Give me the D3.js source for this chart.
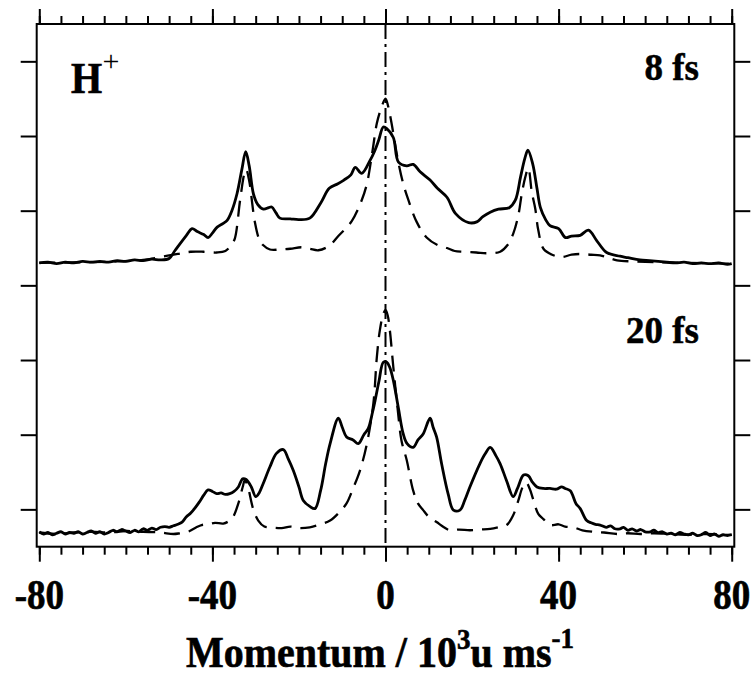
<!DOCTYPE html>
<html>
<head>
<meta charset="utf-8">
<script src="https://cdn.jsdelivr.net/npm/d3@7"></script>
<style>
  body { margin: 0; background: #fff; }
  svg { display: block; }
  text { font-family: "Liberation Serif", "Times New Roman", serif; font-weight: bold; fill: #000; }
</style>
</head>
<body>
<div id="chart"></div>
<script>
// momentum in 10^3 u ms^-1, intensity in arbitrary units (panels offset)
const xTicksMajor = [-80, -40, 0, 40, 80];
const xTicksMinor = d3.range(-80, 81, 5);
const yTicks = [0, 1, 2, 3, 4, 5, 6];

const fs8Solid = [[-80,3.30],[-78,3.31],[-76,3.29],[-74,3.31],[-72,3.30],[-70,3.32],[-68,3.31],[-66,3.32],[-64,3.31],[-62,3.33],[-60,3.32],[-58,3.34],[-56,3.33],[-54,3.35],[-52,3.34],[-50,3.36],[-48.6,3.47],[-46,3.67],[-44.7,3.76],[-43.5,3.72],[-42,3.68],[-41,3.64],[-40,3.70],[-38.9,3.78],[-37.5,3.83],[-36.6,3.87],[-35.5,4.00],[-34.3,4.23],[-33.2,4.55],[-32.3,4.79],[-31.5,4.60],[-30.5,4.22],[-29.5,4.08],[-28.2,4.02],[-27,4.04],[-26.3,4.05],[-25.3,3.97],[-24.4,3.90],[-22,3.89],[-20,3.88],[-17.5,3.90],[-15,4.10],[-13,4.30],[-11,4.36],[-9.6,4.41],[-8,4.48],[-7,4.58],[-5.5,4.50],[-3.6,4.67],[-2.5,4.80],[-1.6,4.94],[-0.5,5.12],[0.3,5.10],[1.8,4.98],[3,4.65],[4.9,4.60],[6.4,4.62],[8,4.52],[10.3,4.41],[12,4.30],[14.2,4.18],[16.2,3.96],[19.2,3.84],[21.1,3.85],[22.5,3.92],[24.2,3.98],[26.1,4.02],[28.6,4.04],[30,4.14],[31.2,4.45],[32.2,4.70],[32.9,4.81],[34,4.63],[35,4.30],[35.8,4.04],[37,3.88],[38,3.80],[40,3.76],[41.6,3.64],[43,3.66],[45,3.67],[46.9,3.74],[48.8,3.60],[51.1,3.44],[54.2,3.39],[56,3.37],[58.8,3.34],[61,3.33],[63,3.32],[65,3.31],[67,3.30],[69,3.31],[71,3.29],[73,3.30],[75,3.29],[77,3.30],[79,3.28],[80,3.29]];

const fs8Dashed = [[-80,3.30],[-70,3.31],[-62,3.32],[-56,3.34],[-52,3.38],[-48,3.42],[-45,3.45],[-42,3.45],[-39,3.44],[-37,3.46],[-35.5,3.55],[-34.8,3.63],[-33.6,4.14],[-32.6,4.50],[-32.2,4.55],[-31.5,4.40],[-30.2,3.85],[-29.2,3.62],[-28.3,3.54],[-26.7,3.48],[-24.4,3.48],[-22,3.49],[-19.4,3.51],[-17.5,3.49],[-15.5,3.47],[-13,3.53],[-10.9,3.66],[-7.8,3.86],[-5.5,4.14],[-4.3,4.36],[-3,4.80],[-2.0,5.17],[-0.9,5.39],[0,5.50],[0.65,5.39],[1.4,5.17],[2.8,4.70],[4.1,4.36],[5.3,4.14],[7.2,3.85],[9.5,3.64],[12,3.54],[14.2,3.50],[16,3.46],[18,3.45],[21,3.44],[23.4,3.43],[26.5,3.45],[28.2,3.54],[29.5,3.69],[30.7,3.94],[31.5,4.23],[32.3,4.45],[33,4.57],[33.8,4.25],[34.6,4.03],[35.3,3.74],[36.5,3.49],[38.5,3.41],[40.7,3.38],[43,3.41],[45,3.42],[47.5,3.41],[49.6,3.40],[51.5,3.37],[53.5,3.335],[57,3.32],[62,3.31],[70,3.30],[80,3.29]];

const fs20Solid = [[-80,-0.30],[-79,-0.33],[-78,-0.31],[-77,-0.34],[-76,-0.32],[-75,-0.30],[-74,-0.33],[-73,-0.31],[-72,-0.32],[-71,-0.30],[-70,-0.33],[-69,-0.31],[-68,-0.29],[-67,-0.32],[-66,-0.30],[-65,-0.33],[-64,-0.31],[-63,-0.28],[-62,-0.30],[-61,-0.27],[-60,-0.29],[-59,-0.31],[-58,-0.28],[-57,-0.30],[-56,-0.26],[-55,-0.28],[-54,-0.25],[-53,-0.27],[-52,-0.24],[-51,-0.23],[-50,-0.24],[-49,-0.22],[-48,-0.20],[-47,-0.17],[-46,-0.10],[-45,-0.05],[-44,0.02],[-43,0.10],[-42,0.19],[-41,0.26],[-40,0.24],[-39,0.21],[-38,0.22],[-37,0.20],[-36,0.21],[-35,0.24],[-34,0.30],[-33,0.41],[-32.2,0.40],[-31,0.30],[-30,0.17],[-29.2,0.22],[-28.3,0.34],[-26.7,0.57],[-25.2,0.75],[-23.6,0.80],[-22.5,0.68],[-21.3,0.52],[-20,0.30],[-19,0.12],[-17.5,0.04],[-16.3,0.01],[-15,0.25],[-13.8,0.62],[-12.8,0.88],[-10.9,1.22],[-10,1.10],[-9,0.97],[-7.5,0.93],[-6.3,0.88],[-5,1.00],[-4,1.08],[-3,1.30],[-2.4,1.46],[-1.5,1.72],[-0.5,1.97],[0.3,1.97],[1,1.90],[1.8,1.73],[3,1.35],[4.1,1.01],[5,0.88],[6.4,0.83],[7.5,0.93],[8.7,1.01],[10.3,1.22],[11,1.10],[11.8,0.97],[13,0.60],[14.5,0.20],[15.7,-0.01],[17.2,-0.01],[18.3,0.12],[19.5,0.30],[21.8,0.61],[23,0.74],[24.2,0.83],[25.5,0.72],[26.5,0.61],[28,0.38],[29.5,0.17],[30.5,0.28],[31.9,0.46],[33,0.45],[34,0.36],[35,0.30],[36.5,0.28],[38,0.28],[39.5,0.27],[40.7,0.30],[41.5,0.28],[42.7,0.25],[44,0.08],[45,0.01],[46.5,-0.15],[47.5,-0.18],[48.5,-0.20],[49.6,-0.21],[51,-0.24],[52,-0.22],[53,-0.26],[54.2,-0.26],[55,-0.24],[56,-0.28],[57,-0.26],[58,-0.29],[59,-0.27],[60,-0.30],[61.2,-0.30],[62,-0.28],[63,-0.31],[64,-0.30],[65,-0.33],[66,-0.32],[67,-0.34],[68,-0.31],[69,-0.33],[70,-0.34],[71,-0.32],[72,-0.35],[73,-0.34],[74,-0.31],[75,-0.35],[76,-0.33],[77,-0.36],[78,-0.34],[79,-0.35],[80,-0.34]];

const fs20Dashed = [[-80,-0.31],[-76,-0.33],[-72,-0.31],[-68,-0.30],[-64,-0.31],[-60,-0.29],[-56,-0.30],[-52,-0.31],[-49,-0.33],[-47.5,-0.32],[-45.6,-0.30],[-43.7,-0.24],[-42.5,-0.21],[-41,-0.20],[-39.4,-0.18],[-37.5,-0.19],[-36,-0.15],[-35.2,-0.10],[-34,0.08],[-33,0.30],[-32.5,0.39],[-31.8,0.30],[-30.6,0.01],[-29.4,-0.15],[-28,-0.23],[-26.7,-0.24],[-24,-0.25],[-22,-0.23],[-20,-0.25],[-17.5,-0.24],[-15,-0.20],[-12.8,-0.15],[-11,-0.06],[-9,0.08],[-7.5,0.28],[-5.9,0.52],[-4.3,0.88],[-2.8,1.42],[-2.0,2.04],[-1.3,2.40],[-0.5,2.62],[0,2.67],[0.5,2.60],[1.0,2.40],[1.8,1.91],[2.8,1.35],[3.7,0.92],[4.9,0.66],[6.4,0.25],[7.5,0.08],[8.7,-0.01],[10,-0.10],[11.8,-0.17],[13.5,-0.24],[14.9,-0.28],[17,-0.27],[19.5,-0.28],[22,-0.27],[24.2,-0.26],[26,-0.24],[28,-0.21],[29.5,-0.08],[30.7,0.12],[31.7,0.30],[32.5,0.36],[33.3,0.28],[34.2,0.12],[35.3,-0.06],[36.5,-0.13],[38,-0.21],[40,-0.20],[41.5,-0.23],[43.4,-0.24],[45.5,-0.28],[48,-0.30],[50.5,-0.31],[53.5,-0.33],[56,-0.32],[58.9,-0.33],[62,-0.32],[66,-0.33],[70,-0.34],[74,-0.33],[78,-0.34],[80,-0.34]];

const W = 754, H = 684;

const svg = d3.select("#chart").append("svg")
    .attr("width", W)
    .attr("height", H);

let x = d3.scaleLinear().domain([-80, 80]).range([39.3, 731.7]);
let y = d3.scaleLinear().domain([-0.5, 6.5]).range([546.7, 24]);

let frameL = x(-80) - 2.6, frameR = x(80) + 2.6;
let frameT = y(6.5), frameB = y(-0.5);

//Ejes: ticks menores y mayores
function xAxis(axisFn, ypos, vals, size) {
    svg.append("g")
        .attr("transform", "translate(0," + ypos + ")")
        .call(axisFn(x).tickValues(vals).tickSize(size).tickFormat(""))
        .call(g => g.select(".domain").remove())
        .call(g => g.selectAll("line").attr("stroke", "#000").attr("stroke-width", 2));
}
xAxis(d3.axisTop, frameT, xTicksMinor, 8);
xAxis(d3.axisTop, frameT, xTicksMajor, 15);
xAxis(d3.axisBottom, frameB, xTicksMinor, 8);
xAxis(d3.axisBottom, frameB, xTicksMajor, 15);

svg.append("g")
    .attr("transform", "translate(" + frameL + ",0)")
    .call(d3.axisLeft(y).tickValues(yTicks).tickSize(16).tickFormat(""))
    .call(g => g.select(".domain").remove())
    .call(g => g.selectAll("line").attr("stroke", "#000").attr("stroke-width", 2));

svg.append("g")
    .attr("transform", "translate(" + frameR + ",0)")
    .call(d3.axisRight(y).tickValues(yTicks).tickSize(16).tickFormat(""))
    .call(g => g.select(".domain").remove())
    .call(g => g.selectAll("line").attr("stroke", "#000").attr("stroke-width", 2));

//Marco
svg.append("rect")
    .attr("x", frameL).attr("y", frameT)
    .attr("width", frameR - frameL).attr("height", frameB - frameT)
    .attr("fill", "none").attr("stroke", "#000").attr("stroke-width", 2);

//Etiquetas eje X
svg.append("g").selectAll("text")
    .data(xTicksMajor)
    .enter()
    .append("text")
    .attr("transform", d => "translate(" + x(d) + ",609) scale(1,1.12)")
    .attr("text-anchor", "middle")
    .attr("font-size", 37)
    .attr("stroke", "#000").attr("stroke-width", 0.6)
    .text(d => d);

//Linea x = 0
svg.append("line")
    .attr("x1", x(0)).attr("x2", x(0))
    .attr("y1", frameT).attr("y2", frameB)
    .attr("stroke", "#000").attr("stroke-width", 2)
    .attr("stroke-dasharray", "15,5,3,5");

let line = d3.line()
    .curve(d3.curveCatmullRom.alpha(0.5))
    .x(d => x(d[0])).y(d => y(d[1]));

[fs8Dashed, fs20Dashed].forEach(s => {
    svg.append("path").datum(s)
        .attr("d", line)
        .attr("fill", "none").attr("stroke", "#000")
        .attr("stroke-width", 2.3)
        .attr("stroke-dasharray", "16,9");
});
[fs8Solid, fs20Solid].forEach(s => {
    svg.append("path").datum(s)
        .attr("d", line)
        .attr("fill", "none").attr("stroke", "#000")
        .attr("stroke-width", 2.8)
        .attr("stroke-linejoin", "round");
});

//Textos
svg.append("text")
    .attr("transform", "translate(71,93) scale(1,1.1)")
    .attr("font-size", 40)
    .attr("stroke", "#000").attr("stroke-width", 0.6)
    .text("H");
svg.append("text")
    .attr("x", 111).attr("y", 71)
    .attr("text-anchor", "middle")
    .attr("font-size", 30)
    .style("font-weight", "normal")
    .text("+");

svg.append("text")
    .attr("transform", "translate(699,80) scale(1,1.05)")
    .attr("text-anchor", "end")
    .attr("font-size", 37)
    .attr("stroke", "#000").attr("stroke-width", 0.5)
    .text("8 fs");

svg.append("text")
    .attr("transform", "translate(699,343) scale(1,1.05)")
    .attr("text-anchor", "end")
    .attr("font-size", 37)
    .attr("stroke", "#000").attr("stroke-width", 0.5)
    .text("20 fs");

let t = svg.append("text")
    .attr("transform", "translate(380,667) scale(1,1.12)")
    .attr("text-anchor", "middle")
    .attr("font-size", 40)
    .attr("stroke", "#000").attr("stroke-width", 0.6);
t.append("tspan").text("Momentum / 10");
t.append("tspan").attr("font-size", 27).attr("dy", -16).text("3");
t.append("tspan").attr("dy", 16).text("u ms");
t.append("tspan").attr("font-size", 27).attr("dy", -17).text("-1");
</script>
</body>
</html>
